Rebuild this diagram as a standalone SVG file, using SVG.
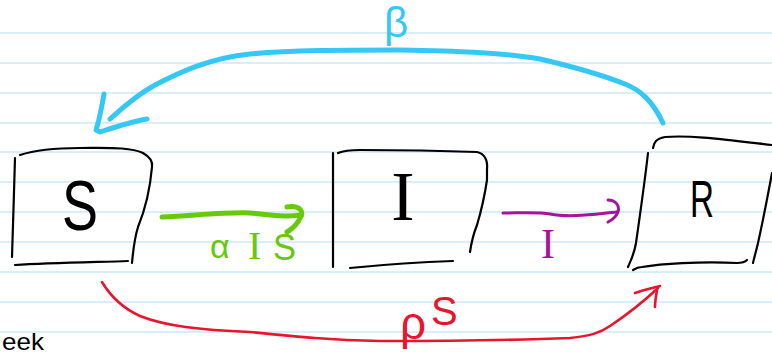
<svg xmlns="http://www.w3.org/2000/svg" width="772" height="354" viewBox="0 0 772 354">
<style>
.rule{stroke:#cde9f8;stroke-width:1.6}
.box{fill:none;stroke:#000;stroke-width:2.2;stroke-linecap:round;stroke-linejoin:round}
.lbl{font-family:"Liberation Sans",Arial,sans-serif}
.ser{font-family:"Liberation Serif","Times New Roman",serif}
.blue{fill:none;stroke:#35c8f6;stroke-width:5;stroke-linecap:round;stroke-linejoin:round}
.green{fill:none;stroke:#66c90a;stroke-width:5;stroke-linecap:round;stroke-linejoin:round}
.purple{fill:none;stroke:#a6149c;stroke-width:3;stroke-linecap:round;stroke-linejoin:round}
.red{fill:none;stroke:#e8162c;stroke-width:2.6;stroke-linecap:round;stroke-linejoin:round}
</style>
<rect width="772" height="354" fill="#fff"/>
<g id="paper">
<line class="rule" x1="0" y1="33" x2="772" y2="33"/>
<line class="rule" x1="0" y1="63" x2="772" y2="63"/>
<line class="rule" x1="0" y1="93" x2="772" y2="93"/>
<line class="rule" x1="0" y1="123" x2="772" y2="123"/>
<line class="rule" x1="0" y1="152" x2="772" y2="152"/>
<line class="rule" x1="0" y1="182" x2="772" y2="182"/>
<line class="rule" x1="0" y1="212" x2="772" y2="212"/>
<line class="rule" x1="0" y1="242" x2="772" y2="242"/>
<line class="rule" x1="0" y1="272" x2="772" y2="272"/>
<line class="rule" x1="0" y1="302" x2="772" y2="302"/>
<line class="rule" x1="0" y1="332" x2="772" y2="332"/>
</g>
<g id="node-S">
<path class="box" d="M15,158 C14,190 13,230 12,257"/>
<path class="box" d="M20,155 C35,150 55,148 80,148 C110,148 130,147 143,153 C150,157 153,162 152,167"/>
<path class="box" d="M152,167 C150,190 145,210 138,227 C134,240 133,252 132,263"/>
<path class="box" d="M15,265 C50,263 100,262 128,261"/>
<text class="lbl" x="62" y="230" font-size="70" textLength="36" lengthAdjust="spacingAndGlyphs">S</text>
</g>
<g id="node-I">
<path class="box" d="M333,153 L333,267"/>
<path class="box" d="M338,153 C345,150 352,150 360,150 C400,150 450,151 477,152 C485,154 488,160 487,170 C487,175 487,178 487,180"/>
<path class="box" d="M487,180 C484,200 480,215 477,225 C473,235 471,245 470,252"/>
<path class="box" d="M350,268 C380,265 420,262 453,261"/>
<text class="ser" x="403" y="220" font-size="70" text-anchor="middle">I</text>
</g>
<g id="node-R">
<path class="box" d="M648,153 C645,180 640,215 636,243 C634,255 630,262 628,267"/>
<path class="box" d="M653,148 C654,142 656,139 665,137 C690,135 720,139 772,145"/>
<path class="box" d="M772,173 C767,200 762,225 758,243 C756,252 754,258 753,263"/>
<path class="box" d="M633,270 C636,268 638,267 642,267 C660,264 700,261 737,263 C742,263 745,262 747,260"/>
<text class="lbl" x="690" y="217" font-size="52" textLength="24" lengthAdjust="spacingAndGlyphs">R</text>
</g>
<g id="connectors">
<path class="blue" d="M663,123 C652,100 640,90 625,84 C600,74 570,66 540,59 C500,52 450,51 400,50 C340,50 290,50 250,54 C210,58 180,72 155,85 C135,96 120,110 110,119"/>
<path class="blue" d="M104,94 C102,105 100,118 96,130 L100,132 C115,127 130,122 147,119"/>
<text class="lbl" x="396" y="37" font-size="42" fill="#35c8f6" text-anchor="middle">β</text>
<path class="green" d="M162,217 C200,215 230,212 250,213 C265,214 280,218 300,215"/>
<path class="green" d="M287,207 C300,205 305,212 300,218 C297,225 292,229 287,232"/>
<text class="lbl" x="210" y="258" font-size="34" fill="#66c90a">α</text>
<text class="ser" x="248" y="259" font-size="40" fill="#66c90a">I</text>
<text class="lbl" x="273" y="260" font-size="36" fill="#66c90a" textLength="23" lengthAdjust="spacingAndGlyphs">S</text>
<path class="purple" d="M503,213 C520,213 540,212 550,214 C570,218 595,214 617,212"/>
<path class="purple" d="M608,200 C615,200 620,205 618,212 C616,217 612,220 608,222"/>
<text class="ser" x="548" y="258" font-size="42" fill="#a6149c" text-anchor="middle">I</text>
<path class="red" d="M102,282 C108,292 118,306 140,316 C165,326 200,330 250,332 C300,337 330,340 380,341 C450,341 520,340 570,338 C590,336 600,333 610,326 C625,316 640,305 658,288"/>
<path class="red" d="M635,293 C643,290 652,288 660,286 M657,290 C656,296 655,301 655,307"/>
<text class="lbl" x="400" y="339" font-size="46" fill="#e8162c">ρ</text>
<text class="lbl" x="431" y="325" font-size="40" fill="#e8162c">S</text>
</g>
<text class="lbl" x="2" y="350" font-size="24" fill="#000" textLength="42" lengthAdjust="spacingAndGlyphs">eek</text>
</svg>
